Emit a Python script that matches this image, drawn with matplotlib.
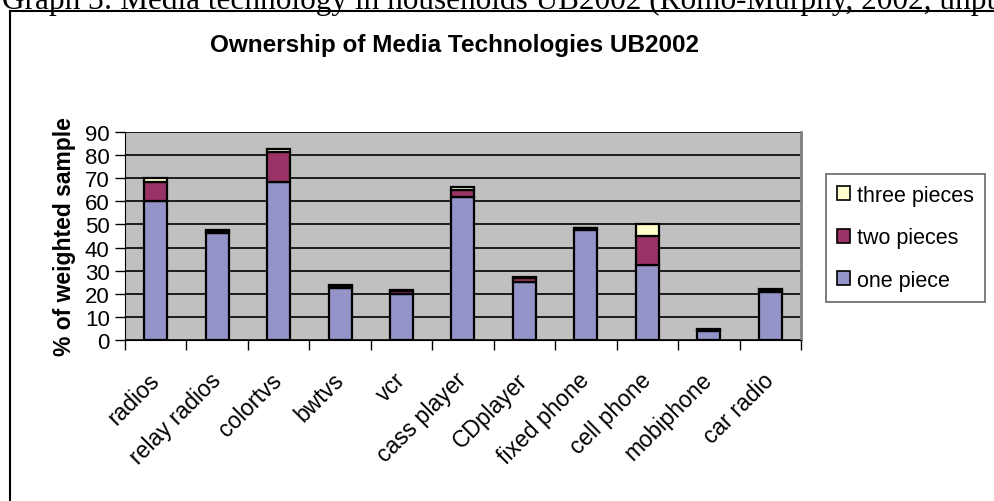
import matplotlib
matplotlib.use("Agg")
import matplotlib.pyplot as plt
from matplotlib.lines import Line2D
import numpy as np

categories = ["radios", "relay radios", "colortvs", "bwtvs", "vcr", "cass player",
              "CDplayer", "fixed phone", "cell phone", "mobiphone", "car radio"]
one_piece = [60.0, 46.5, 68.5, 22.7, 20.0, 61.7, 25.0, 47.5, 32.5, 3.7, 20.6]
two_pieces = [8.5, 0.8, 13.0, 0.7, 1.2, 3.3, 1.7, 0.8, 12.7, 0.8, 1.2]
three_pieces = [1.5, 0.3, 1.0, 0.3, 0.3, 1.3, 0.5, 0.3, 5.0, 0.3, 0.3]

plt.rcParams["font.family"] = ["Liberation Sans", "DejaVu Sans"]

fig = plt.figure(figsize=(9.95, 5.02), dpi=100)
ax = fig.add_axes([0.1256, 0.3207, 0.6794, 0.4143])

x = np.arange(len(categories))
one = np.array(one_piece)
two = np.array(two_pieces)
three = np.array(three_pieces)

w = 0.375
ax.bar(x, one, w, color="#9494c8", edgecolor="black", linewidth=1.6, label="one piece", zorder=3)
ax.bar(x, two, w, bottom=one, color="#993366", edgecolor="black", linewidth=1.6, label="two pieces", zorder=3)
ax.bar(x, three, w, bottom=one + two, color="#ffffcc", edgecolor="black", linewidth=1.6, label="three pieces", zorder=3)

ax.set_facecolor("#c0c0c0")
ax.set_xlim(-0.5, len(categories) - 0.5)
ax.set_ylim(0, 90)
ax.set_yticks(np.arange(0, 91, 10))
ax.yaxis.grid(True, color="black", linewidth=1.2, zorder=1)
ax.set_axisbelow(True)

# category ticks sit between the bars, labels centred under them
ax.set_xticks(np.arange(-0.5, len(categories), 1.0))
ax.set_xticklabels([])
ax.set_xticks(x, minor=True)
ax.set_xticklabels(categories, minor=True, rotation=45, ha="right", va="center",
                   rotation_mode="anchor", fontsize=16.5)
ax.tick_params(axis="x", which="minor", length=0, pad=26)
ax.tick_params(axis="x", which="major", length=7, width=1, direction="out")
ax.tick_params(axis="y", length=7, width=1, direction="out", labelsize=16, pad=4)

ax.spines["right"].set_color("#808080")
ax.spines["right"].set_linewidth(2)
ax.spines["top"].set_visible(False)
ax.spines["left"].set_color("black")
ax.spines["bottom"].set_color("black")

ax.set_ylabel("% of weighted sample", fontsize=16.5, fontweight="bold", labelpad=6)
fig.text(0.457, 0.91, "Ownership of Media Technologies UB2002", ha="center", va="center",
         fontsize=17.5, fontweight="bold")

handles, labels = ax.get_legend_handles_labels()
leg = fig.legend(handles[::-1], labels[::-1], loc="upper left",
                 bbox_to_anchor=(826 / 995, 1 - 175 / 502), fontsize=15.5,
                 frameon=True, fancybox=False, edgecolor="#404040",
                 handlelength=0.6, handleheight=0.6, handletextpad=0.35,
                 labelspacing=1.0, borderpad=0.5, borderaxespad=0)
leg.get_frame().set_linewidth(1.2)
for h in leg.legend_handles:
    h.set_linewidth(1.2)

# outer chart frame and the caption above it
fig.add_artist(Line2D([10 / 995, 10 / 995], [0, 1 - 12 / 502], color="black", linewidth=1.5, transform=fig.transFigure))
fig.add_artist(Line2D([10 / 995, 1], [1 - 12 / 502, 1 - 12 / 502], color="black", linewidth=1.5, transform=fig.transFigure))
fig.text(0.002, 1 - 9 / 502, "Graph 3: Media technology in households UB2002 (Romo-Murphy, 2002, unpublished)",
         fontsize=22.5, family="Liberation Serif", va="baseline", ha="left")

fig.savefig("out.png", dpi=100)
